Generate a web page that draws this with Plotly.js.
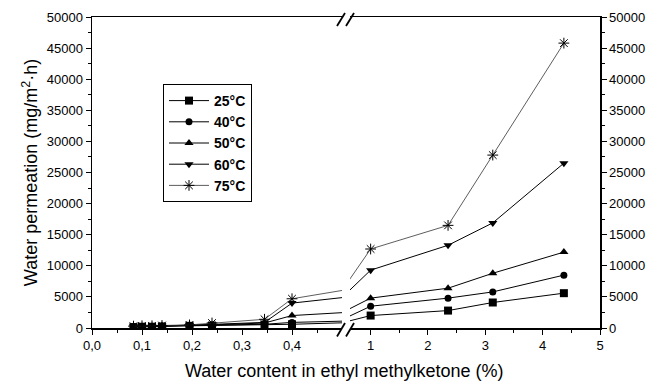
<!DOCTYPE html>
<html>
<head>
<meta charset="utf-8">
<script src="https://cdn.plot.ly/plotly-3.0.1.min.js"></script>
<style>html,body{margin:0;padding:0;background:#fff;}#chart{width:655px;height:382px;}</style>
</head>
<body>
<div id="chart"></div>
<script>
// Water content in ethyl methylketone (%)
const waterContent = [0.083, 0.10, 0.12, 0.14, 0.195, 0.24, 0.345, 0.40, 1.0, 2.35, 3.13, 4.37];
const seriesNames = ['25°C', '40°C', '50°C', '60°C', '75°C'];
// Water permeation (mg/m2·h)
const perm25 = [150, 200, 200, 250, 350, 400, 450, 600, 2000, 2800, 4100, 5600];
const perm40 = [200, 250, 250, 300, 400, 450, 600, 900, 3500, 4800, 5800, 8500];
const perm50 = [200, 250, 300, 350, 450, 500, 800, 2000, 4800, 6400, 8800, 12200];
const perm60 = [250, 300, 300, 350, 450, 600, 900, 4000, 9300, 13300, 16900, 26500];
const perm75 = [300, 350, 350, 400, 500, 800, 1400, 4700, 12700, 16500, 27800, 45800];
const leftTicks = [0, 0.1, 0.2, 0.3, 0.4];
const rightTicks = [1, 2, 3, 4, 5];

const symbols = ['square', 'circle', 'triangle-up', 'triangle-down', 'asterisk-open'];
const allY = [perm25, perm40, perm50, perm60, perm75];

const traces = [];
allY.forEach((ys, i) => {
  const isStar = i === 4;
  const marker = isStar
    ? {symbol: symbols[i], size: 9, color: '#000', line: {color: '#000', width: 1}}
    : {symbol: symbols[i], size: i === 1 ? 7 : 8, color: '#000'};
  const line = {color: isStar ? '#333' : '#000', width: isStar ? 0.8 : 1};
  traces.push({x: waterContent, y: ys, xaxis: 'x', yaxis: 'y', mode: 'lines+markers',
    name: seriesNames[i], marker: marker, line: line, showlegend: true, legendrank: i});
  traces.push({x: waterContent, y: ys, xaxis: 'x2', yaxis: 'y2', mode: 'lines+markers',
    name: seriesNames[i], marker: marker, line: line, showlegend: false});
});

const W = 508, L = 92;
const px = p => (p - L) / W;
const H = 311, B = 328;
const py = p => (B - p) / H;

const FAM = 'Liberation Sans, Arial, sans-serif';
const tickFont = {family: FAM, size: 13, color: '#000'};
const yCommon = {
  range: [0, 50000], tickvals: [0,5000,10000,15000,20000,25000,30000,35000,40000,45000,50000],
  tickformat: 'd', ticks: 'outside', ticklen: 5, tickwidth: 1, tickcolor: '#000',
  showline: true, linecolor: '#000', linewidth: 1.5, showgrid: false, zeroline: false,
  tickfont: tickFont, fixedrange: true,
  minor: {dtick: 2500, ticks: 'outside', ticklen: 3, tickcolor: '#000', tickwidth: 1, showgrid: false}
};

const slash = (x0, y0, x1, y1) => ({type: 'line', xref: 'paper', yref: 'paper',
  x0: px(x0), y0: py(y0), x1: px(x1), y1: py(y1), line: {color: '#000', width: 1.8}});

const layout = {
  width: 655, height: 382,
  margin: {l: 92, r: 55, t: 17, b: 54},
  paper_bgcolor: '#fff', plot_bgcolor: '#fff',
  separators: ',.',
  font: {family: FAM, color: '#000'},
  xaxis: {
    domain: [0, px(342)], range: [0, 0.5], anchor: 'y',
    tickvals: leftTicks, tickformat: '.1f',
    ticks: 'outside', ticklen: 5, tickwidth: 1, tickcolor: '#000',
    showline: true, mirror: true, linecolor: '#000', linewidth: 1.5,
    showgrid: false, zeroline: false, tickfont: tickFont,
    minor: {tickvals: [0.05, 0.15, 0.25, 0.35, 0.45], ticks: 'outside', ticklen: 3, tickcolor: '#000', tickwidth: 1, showgrid: false}
  },
  xaxis2: {
    domain: [px(350), 1], range: [0.64, 5], anchor: 'y2',
    tickvals: rightTicks, ticks: 'outside', ticklen: 5, tickwidth: 1, tickcolor: '#000',
    showline: true, mirror: true, linecolor: '#000', linewidth: 1.5,
    showgrid: false, zeroline: false, tickfont: tickFont,
    minor: {tickvals: [1.5, 2.5, 3.5, 4.5], ticks: 'outside', ticklen: 3, tickcolor: '#000', tickwidth: 1, showgrid: false}
  },
  yaxis: Object.assign({}, yCommon, {anchor: 'x', side: 'left',
    title: {text: 'Water permeation (mg/m<sup>2</sup>·h)', font: {size: 18, family: FAM}, standoff: 4}}),
  yaxis2: Object.assign({}, yCommon, {anchor: 'x2', side: 'right'}),
  annotations: [{
    text: 'Water content in ethyl methylketone (%)', xref: 'paper', yref: 'paper',
    x: px(344), y: py(371), xanchor: 'center', yanchor: 'middle', showarrow: false,
    font: {size: 18, family: FAM}
  }],
  shapes: [
    slash(337, 336.5, 345, 323), slash(346, 336.5, 354, 323),
    slash(337, 26, 345, 13), slash(346, 26, 354, 13)
  ],
  legend: {
    x: px(163), y: py(84), xanchor: 'left', yanchor: 'top',
    bordercolor: '#000', borderwidth: 1, bgcolor: '#fff',
    font: {size: 14, family: FAM, weight: 'bold'},
    tracegroupgap: 0, itemwidth: 40
  },
  showlegend: true
};

Plotly.newPlot('chart', traces, layout, {displayModeBar: false, staticPlot: true});
</script>
</body>
</html>
